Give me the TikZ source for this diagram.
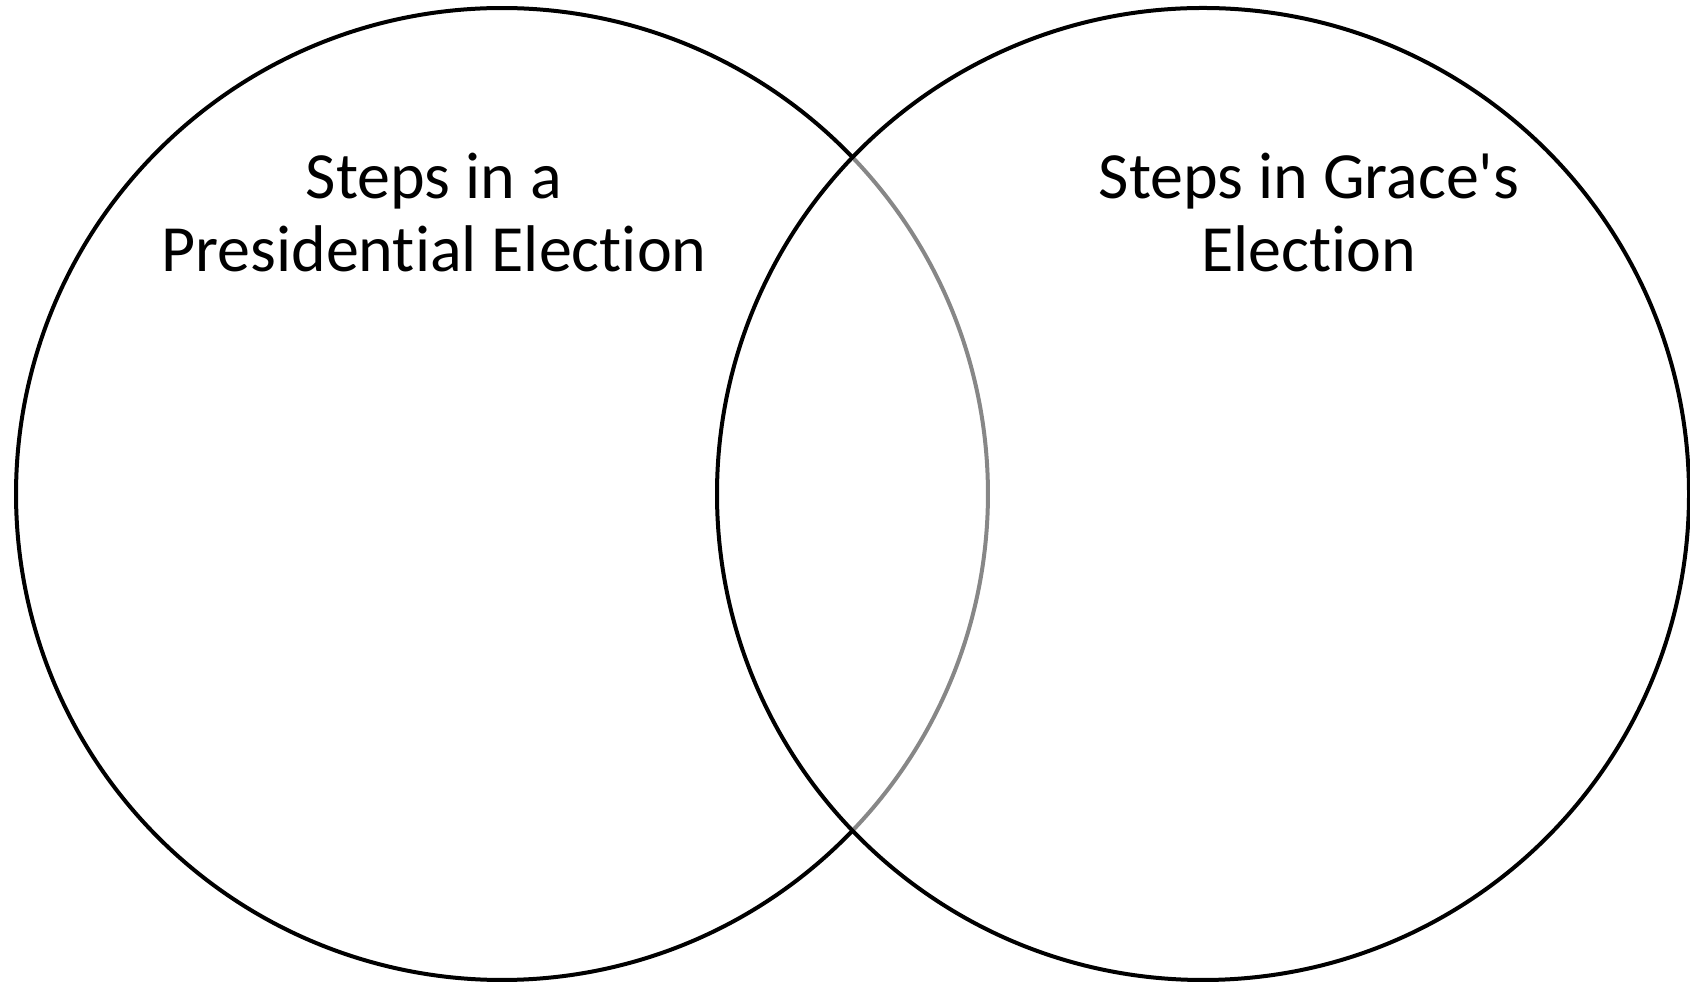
\documentclass[tikz,border=0pt]{standalone}
\usepackage{fontspec}
\setmainfont{Carlito}[Ligatures={TeXOff,CommonOff}]
\begin{document}
\begin{tikzpicture}[x=1pt,y=1pt,
  ring/.style={line width=4pt,draw=black},
  innerring/.style={line width=4pt,draw=black!47},
  label/.style={anchor=base,inner sep=0pt,font=\fontsize{66}{72}\selectfont}]
\useasboundingbox (0,0) rectangle (1690,984);
\coordinate (cl) at (502,490);
\coordinate (cr) at (1203,490);
% left circle: grey part inside right circle
\draw[innerring] (cl) ++(-43.8:486) arc[start angle=-43.8,end angle=43.8,radius=486];
\draw[ring] (cl) ++(43.8:486) arc[start angle=43.8,end angle=316.2,radius=486];
\draw[ring] (cr) circle[radius=486];
\node[label] (l1) at (434,785) {Steps in a};
\node[label] (l2) at (434,712) {Presidential Election};
\node[label] (r1) at (1309,785) {Steps in Grace's};
\node[label] (r2) at (1309,712) {Election};
\end{tikzpicture}
\end{document}
